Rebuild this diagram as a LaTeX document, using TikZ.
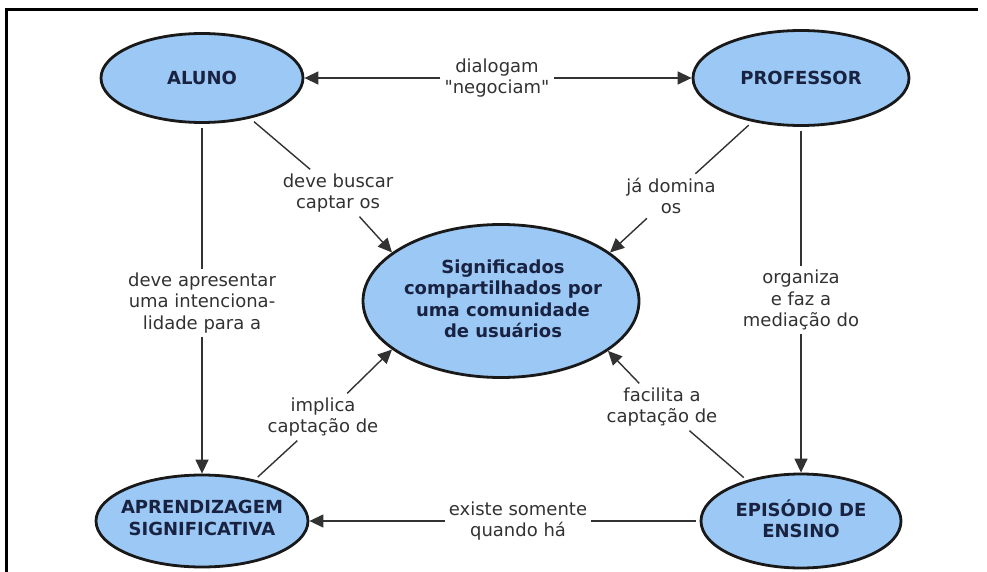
\documentclass[tikz,border=0pt]{standalone}
\usepackage{fontspec}
\newfontfamily\dvs{DejaVu Sans}
\usetikzlibrary{shapes.geometric,arrows.meta}
\definecolor{cfill}{RGB}{155,200,245}
\definecolor{ctext}{RGB}{25,35,65}
\definecolor{lcol}{RGB}{50,50,50}
\begin{document}
\begin{tikzpicture}[x=1pt,y=-1pt,
  concept/.style={ellipse, draw=black!90, line width=2.8pt, fill=cfill, inner sep=0pt},
  ctxt/.style={font=\dvs\fontsize{18}{21.5}\selectfont\bfseries, text=ctext, align=center, inner sep=0pt},
  lab/.style={font=\dvs\fontsize{18}{21.5}\selectfont, text=lcol, align=center, inner sep=4pt},
  conn/.style={draw=lcol, line width=1.4pt},
  arr/.style={conn, -{Triangle[length=14pt,width=13pt]}},
  ]
\useasboundingbox (0,0) rectangle (987,572);
\draw[line width=2.5pt] (6.5,572) -- (6.5,9.5) -- (978,9.5);

% concepts
\node[concept, minimum width=202pt, minimum height=89pt] (aluno) at (202,78) {};
\node[ctxt] at (aluno) {ALUNO};
\node[concept, minimum width=216pt, minimum height=95pt] (prof) at (801,78) {};
\node[ctxt] at (prof) {PROFESSOR};
\node[concept, minimum width=276pt, minimum height=153pt] (sig) at (501,301) {};
\node[ctxt] at ([xshift=2pt,yshift=2pt]sig.center) {Significados\\compartilhados por\\uma comunidade\\de usuários};
\node[concept, minimum width=212pt, minimum height=92pt] (apr) at (202,521) {};
\node[ctxt] at ([yshift=3pt]apr.center) {APRENDIZAGEM\\SIGNIFICATIVA};
\node[concept, minimum width=200pt, minimum height=94pt] (epi) at (801,521) {};
\node[ctxt] at ([yshift=2pt]epi.center) {EPISÓDIO DE\\ENSINO};

% linking phrases
\node[lab] (ldia) at (497,78) {dialogam\\"negociam"};
\node[lab] (lapr) at (202,303) {deve apresentar\\uma intenciona-\\lidade para a};
\node[lab] (lbus) at (338,193) {deve buscar\\captar os};
\node[lab] (ldom) at (671,196) {já domina\\os};
\node[lab] (lorg) at (801,300) {organiza\\e faz a\\mediação do};
\node[lab] (limp) at (323,417) {implica\\captação de};
\node[lab] (lfac) at (662,407) {facilita a\\captação de};
\node[lab] (lexi) at (518,521) {existe somente\\quando há};

% connectors
\draw[arr] (ldia) -- (aluno);
\draw[arr] (ldia) -- (prof);
\draw[conn, shorten <=4pt] (aluno) -- (lapr);
\draw[arr] (lapr) -- (apr);
\draw[conn, shorten <=5pt] (aluno.-40) -- (lbus);
\draw[arr] (lbus) -- (sig.156);
\draw[conn, shorten <=5pt] (prof.-138) -- (ldom);
\draw[arr] (ldom) -- (sig.24);
\draw[conn, shorten <=4pt] (prof) -- (lorg);
\draw[arr] (lorg) -- (epi);
\draw[conn, shorten <=4pt] (apr.38) -- (limp);
\draw[arr] (limp) -- (sig.-156);
\draw[conn, shorten <=4pt] (epi.143) -- (lfac);
\draw[arr] (lfac) -- (sig.-25);
\draw[conn, shorten <=4pt] (epi) -- (lexi);
\draw[arr] (lexi) -- (apr);
\end{tikzpicture}
\end{document}
